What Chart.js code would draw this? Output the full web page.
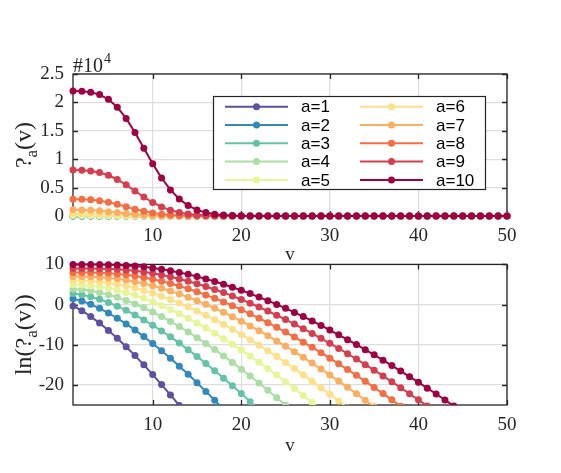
<!DOCTYPE html>
<html>
<head>
<meta charset="utf-8">
<script src="https://cdn.jsdelivr.net/npm/chart.js@4.4.1/dist/chart.umd.min.js"></script>
<style>
  html, body { margin: 0; padding: 0; background: #fff; }
  #wrap { position: relative; width: 561px; height: 473px; }
  canvas { position: absolute; left: 0; }
  #topChart { top: 0; }
  #bottomChart { top: 244px; }
</style>
</head>
<body>
<div id="wrap">
  <canvas id="topChart" width="561" height="262" style="width:561px;height:262px"></canvas>
  <canvas id="bottomChart" width="561" height="229" style="width:561px;height:229px"></canvas>
</div>
<script>
// v = 1..50
const vValues = [1,2,3,4,5,6,7,8,9,10,11,12,13,14,15,16,17,18,19,20,21,22,23,24,25,
                 26,27,28,29,30,31,32,33,34,35,36,37,38,39,40,41,42,43,44,45,46,47,48,49,50];
const seriesLabels = ['a=1','a=2','a=3','a=4','a=5','a=6','a=7','a=8','a=9','a=10'];
const colors = ['#5e4fa2','#3288bd','#66c2a5','#abdda4','#e6f598','#fee08b','#fdae61','#f46d43','#d53e4f','#9e0142'];

const xTicks = [10, 20, 30, 40, 50];
const topYTicks = [0, 0.5, 1, 1.5, 2, 2.5];
const bottomYTicks = [-20, -10, 0, 10];

// top panel, values in units of 10^4
const phi1 = [0,0,0,0,0,0,0,0,0,0,0,0,0,0,0,0,0,0,0,0,0,0,0,0,0,0,0,0,0,0,0,0,0,0,0,0,0,0,0,0,0,0,0,0,0,0,0,0,0,0];
const phi2 = [0,0,0,0,0,0,0,0,0,0,0,0,0,0,0,0,0,0,0,0,0,0,0,0,0,0,0,0,0,0,0,0,0,0,0,0,0,0,0,0,0,0,0,0,0,0,0,0,0,0];
const phi3 = [0.002,0.001,0.001,0,0,0,0,0,0,0,0,0,0,0,0,0,0,0,0,0,0,0,0,0,0,
              0,0,0,0,0,0,0,0,0,0,0,0,0,0,0,0,0,0,0,0,0,0,0,0,0];
const phi4 = [0.005,0.004,0.003,0.002,0.001,0.001,0,0,0,0,0,0,0,0,0,0,0,0,0,0,0,0,0,0,0,
              0,0,0,0,0,0,0,0,0,0,0,0,0,0,0,0,0,0,0,0,0,0,0,0,0];
const phi5 = [0.014,0.013,0.011,0.008,0.006,0.004,0.002,0.001,0.001,0,0,0,0,0,0,0,0,0,0,0,0,0,0,0,0,
              0,0,0,0,0,0,0,0,0,0,0,0,0,0,0,0,0,0,0,0,0,0,0,0,0];
const phi6 = [0.040,0.038,0.034,0.029,0.022,0.016,0.010,0.006,0.003,0.002,0.001,0,0,0,0,0,0,0,0,0,0,0,0,0,0,
              0,0,0,0,0,0,0,0,0,0,0,0,0,0,0,0,0,0,0,0,0,0,0,0,0];
const phi7 = [0.109,0.106,0.101,0.091,0.077,0.060,0.044,0.030,0.019,0.011,0.006,0.003,0.001,0.001,0,0,0,0,0,0,0,0,0,0,0,
              0,0,0,0,0,0,0,0,0,0,0,0,0,0,0,0,0,0,0,0,0,0,0,0,0];
const phi8 = [0.297,0.294,0.285,0.268,0.241,0.205,0.163,0.121,0.084,0.055,0.033,0.019,0.010,0.005,0.002,0.001,0,0,0,0,0,0,0,0,0,
              0,0,0,0,0,0,0,0,0,0,0,0,0,0,0,0,0,0,0,0,0,0,0,0,0];
const phi9 = [0.809,0.805,0.793,0.766,0.717,0.643,0.548,0.441,0.334,0.238,0.160,0.101,0.060,0.034,0.018,0.009,0.004,0.002,0.001,0,0,0,0,0,0,
              0,0,0,0,0,0,0,0,0,0,0,0,0,0,0,0,0,0,0,0,0,0,0,0,0];
const phi10 = [2.202,2.197,2.180,2.138,2.055,1.916,1.718,1.470,1.194,0.918,0.668,0.459,0.299,0.184,0.107,0.060,0.031,0.016,0.008,0.003,0.002,0.001,0,0,0,
               0,0,0,0,0,0,0,0,0,0,0,0,0,0,0,0,0,0,0,0,0,0,0,0,0];

// bottom panel, ln values (each runs until it leaves the axes at -25)
const ln1 = [-0.33,-1.52,-2.96,-4.61,-6.43,-8.40,-10.50,-12.70,-15.01,-17.42,-19.91,-22.48,-25.12];
const ln2 = [1.48,0.87,0.05,-0.94,-2.10,-3.40,-4.82,-6.34,-7.97,-9.70,-11.51,-13.39,-15.35,-17.37,-19.46,-21.61,-23.81,-26.07];
const ln3 = [2.78,2.45,1.96,1.31,0.52,-0.40,-1.43,-2.57,-3.81,-5.14,-6.55,-8.03,-9.59,-11.22,-12.90,-14.65,-16.45,-18.31,-20.21,-22.16,
             -24.16,-26.21];
const ln4 = [3.90,3.73,3.43,3.01,2.46,1.80,1.03,0.15,-0.81,-1.86,-3.00,-4.20,-5.48,-6.82,-8.23,-9.69,-11.21,-12.78,-14.40,-16.07,
             -17.78,-19.54,-21.34,-23.18,-25.06];
const ln5 = [4.96,4.87,4.69,4.42,4.04,3.56,2.99,2.31,1.55,0.71,-0.21,-1.20,-2.27,-3.39,-4.58,-5.83,-7.13,-8.48,-9.88,-11.33,
             -12.82,-14.36,-15.94,-17.56,-19.21,-20.91,-22.64,-24.40,-26.20];
const ln6 = [5.98,5.94,5.84,5.66,5.41,5.07,4.64,4.12,3.52,2.84,2.09,1.27,0.38,-0.57,-1.58,-2.65,-3.77,-4.95,-6.17,-7.44,
             -8.75,-10.11,-11.51,-12.95,-14.43,-15.94,-17.49,-19.07,-20.69,-22.34,-24.02,-25.73];
const ln7 = [6.99,6.97,6.91,6.81,6.64,6.40,6.09,5.69,5.23,4.68,4.07,3.39,2.64,1.84,0.97,0.05,-0.92,-1.94,-3.02,-4.14,
             -5.31,-6.51,-7.76,-9.05,-10.37,-11.73,-13.13,-14.56,-16.03,-17.52,-19.05,-20.61,-22.20,-23.81,-25.46];
const ln8 = [8.00,7.99,7.96,7.90,7.79,7.62,7.40,7.10,6.74,6.31,5.81,5.25,4.62,3.94,3.20,2.41,1.56,0.66,-0.28,-1.27,
             -2.31,-3.38,-4.50,-5.66,-6.85,-8.08,-9.35,-10.65,-11.98,-13.35,-14.74,-16.17,-17.62,-19.11,-20.62,-22.16,-23.72,-25.31];
const ln9 = [9.00,8.99,8.98,8.94,8.88,8.77,8.61,8.39,8.11,7.78,7.38,6.91,6.39,5.82,5.18,4.50,3.76,2.98,2.15,1.27,
             0.35,-0.61,-1.62,-2.66,-3.74,-4.85,-6.00,-7.19,-8.40,-9.65,-10.93,-12.24,-13.58,-14.95,-16.34,-17.77,-19.21,-20.69,-22.19,-23.71,
             -25.26];
const ln10 = [10.00,10.00,9.99,9.97,9.93,9.86,9.75,9.60,9.39,9.13,8.81,8.43,8.00,7.52,6.98,6.39,5.75,5.06,4.33,3.55,
              2.73,1.87,0.97,0.03,-0.94,-1.96,-3.00,-4.08,-5.20,-6.34,-7.52,-8.73,-9.96,-11.22,-12.51,-13.83,-15.18,-16.55,-17.94,-19.36,
              -20.80,-22.27,-23.75,-25.26];

const topSeries = [phi1, phi2, phi3, phi4, phi5, phi6, phi7, phi8, phi9, phi10];
const bottomSeries = [ln1, ln2, ln3, ln4, ln5, ln6, ln7, ln8, ln9, ln10];

const AXIS_COLOR = '#262626';
const GRID_COLOR = '#dedede';
const SERIF = "'Liberation Serif', 'Times New Roman', serif";
const SANS = "'Liberation Sans', Arial, sans-serif";

function toPoints(arr) {
  return arr.map((y, i) => ({ x: vValues[i], y: y }));
}

function makeDatasets(list, clip) {
  return list.map((arr, i) => ({
    label: seriesLabels[i],
    data: toPoints(arr),
    borderColor: colors[i],
    backgroundColor: colors[i],
    pointBackgroundColor: colors[i],
    pointBorderWidth: 0,
    pointRadius: 3.5,
    borderWidth: 2,
    order: 10 - i,
    clip: clip
  }));
}

function makeScales(yMin, yMax, yTicks, xAxisHeight) {
  const tickFont = { family: SERIF, size: 19 };
  return {
    x: {
      type: 'linear', min: 1, max: 50,
      afterBuildTicks: s => { s.ticks = xTicks.map(v => ({ value: v })); },
      afterFit: s => { s.height = xAxisHeight; },
      grid: { color: GRID_COLOR, lineWidth: 1.2, drawTicks: false },
      border: { display: false },
      ticks: { font: tickFont, color: AXIS_COLOR, padding: 9, maxRotation: 0, callback: v => String(v) }
    },
    y: {
      type: 'linear', min: yMin, max: yMax,
      afterBuildTicks: s => { s.ticks = yTicks.map(v => ({ value: v })); },
      afterFit: s => { s.width = 73; },
      grid: { color: GRID_COLOR, lineWidth: 1.2, drawTicks: false },
      border: { display: false },
      ticks: { font: tickFont, color: AXIS_COLOR, padding: 9, callback: v => String(v) }
    }
  };
}

// white axes background, box and inward ticks (drawn under the data, like matlab)
const axesBox = {
  id: 'axesBox',
  beforeDraw(chart) {
    const { ctx, chartArea: a } = chart;
    ctx.save();
    ctx.fillStyle = '#fff';
    ctx.fillRect(a.left, a.top, a.right - a.left, a.bottom - a.top);
    ctx.restore();
  },
  beforeDatasetsDraw(chart) {
    const { ctx, chartArea: a, scales } = chart;
    ctx.save();
    ctx.strokeStyle = AXIS_COLOR;
    ctx.lineWidth = 1.3;
    ctx.beginPath();
    scales.x.ticks.forEach(t => {
      const px = Math.round(scales.x.getPixelForValue(t.value)) + 0.5;
      ctx.moveTo(px, a.bottom); ctx.lineTo(px, a.bottom - 5);
      ctx.moveTo(px, a.top); ctx.lineTo(px, a.top + 5);
    });
    scales.y.ticks.forEach(t => {
      const py = Math.round(scales.y.getPixelForValue(t.value)) + 0.5;
      ctx.moveTo(a.left, py); ctx.lineTo(a.left + 5, py);
      ctx.moveTo(a.right, py); ctx.lineTo(a.right - 5, py);
    });
    ctx.stroke();
    ctx.strokeRect(a.left, a.top, a.right - a.left, a.bottom - a.top);
    ctx.restore();
  }
};

function drawYLabel(ctx, parts, cx, cy) {
  ctx.save();
  ctx.translate(cx, cy);
  ctx.rotate(-Math.PI / 2);
  let total = 0;
  parts.forEach(p => {
    ctx.font = (p.sub ? '17px ' : '24px ') + SERIF;
    p.w = ctx.measureText(p.t).width;
    total += p.w;
  });
  let x = -total / 2;
  ctx.fillStyle = AXIS_COLOR;
  ctx.textBaseline = 'alphabetic';
  parts.forEach(p => {
    ctx.font = (p.sub ? '17px ' : '24px ') + SERIF;
    ctx.fillText(p.t, x, p.sub ? 6 : 0);
    x += p.w;
  });
  ctx.restore();
}

const labels = {
  id: 'labels',
  afterDraw(chart, args, o) {
    const { ctx, chartArea: a } = chart;
    ctx.save();
    ctx.fillStyle = AXIS_COLOR;
    ctx.font = '19px ' + SERIF;
    ctx.textAlign = 'center';
    ctx.textBaseline = 'alphabetic';
    ctx.fillText('v', (a.left + a.right) / 2, o.xLabelY);
    if (o.exponent) {
      ctx.textAlign = 'left';
      ctx.font = '20px ' + SERIF;
      ctx.fillText('#10', 73, 72);
      const w = ctx.measureText('#10').width;
      ctx.font = '14px ' + SERIF;
      ctx.fillText('4', 73 + w + 1, 63);
    }
    ctx.restore();
    drawYLabel(ctx, o.yLabel, o.yLabelX, (a.top + a.bottom) / 2);
  }
};

// two-column legend, filled column by column
const columnLegend = {
  id: 'columnLegend',
  afterDatasetsDraw(chart, args, o) {
    if (!o.show) return;
    const ctx = chart.ctx;
    ctx.save();
    ctx.fillStyle = '#fff';
    ctx.fillRect(o.x, o.y, o.w, o.h);
    ctx.strokeStyle = AXIS_COLOR;
    ctx.lineWidth = 1.2;
    ctx.strokeRect(o.x + 0.5, o.y + 0.5, o.w, o.h);
    ctx.font = '17px ' + SANS;
    ctx.textBaseline = 'middle';
    ctx.textAlign = 'left';
    chart.data.datasets.forEach((ds, i) => {
      const col = Math.floor(i / o.rows);
      const row = i % o.rows;
      const ly = o.y + o.firstRow + row * o.rowH;
      const lx = o.x + o.colX[col];
      ctx.strokeStyle = ds.borderColor;
      ctx.lineWidth = 2;
      ctx.beginPath();
      ctx.moveTo(lx, ly); ctx.lineTo(lx + o.lineLen, ly);
      ctx.stroke();
      ctx.fillStyle = ds.borderColor;
      ctx.beginPath();
      ctx.arc(lx + o.lineLen / 2, ly, 3.5, 0, Math.PI * 2);
      ctx.fill();
      ctx.fillStyle = '#000';
      ctx.fillText(ds.label, lx + o.lineLen + 13, ly + 1);
    });
    ctx.restore();
  }
};

Chart.register(axesBox, labels, columnLegend);

const common = {
  responsive: false,
  animation: false,
  events: [],
  plugins: { legend: { display: false }, tooltip: { enabled: false } }
};

new Chart(document.getElementById('topChart').getContext('2d'), {
  type: 'line',
  data: { datasets: makeDatasets(topSeries, { left: 6, right: 6, top: 6, bottom: 6 }) },
  options: {
    ...common,
    layout: { padding: { left: 0, right: 54, top: 74, bottom: 0 } },
    scales: makeScales(0, 2.5, topYTicks, 46),
    plugins: {
      ...common.plugins,
      labels: {
        xLabelY: 259.5, exponent: true, yLabelX: 31,
        yLabel: [{ t: '?', sub: false }, { t: 'a', sub: true }, { t: '(v)', sub: false }]
      },
      columnLegend: {
        show: true, x: 213, y: 96, w: 272, h: 93, rows: 5,
        firstRow: 10.7, rowH: 18.3, colX: [12, 147], lineLen: 63
      }
    }
  }
});

new Chart(document.getElementById('bottomChart').getContext('2d'), {
  type: 'line',
  data: { datasets: makeDatasets(bottomSeries, { left: 6, right: 6, top: 6, bottom: 0 }) },
  options: {
    ...common,
    layout: { padding: { left: 0, right: 54, top: 16, bottom: 0 } },
    scales: makeScales(-25, 10, bottomYTicks, 68),
    plugins: {
      ...common.plugins,
      labels: {
        xLabelY: 207, exponent: false, yLabelX: 31,
        yLabel: [{ t: 'ln(?', sub: false }, { t: 'a', sub: true }, { t: '(v))', sub: false }]
      },
      columnLegend: { show: false }
    }
  }
});
</script>
</body>
</html>
